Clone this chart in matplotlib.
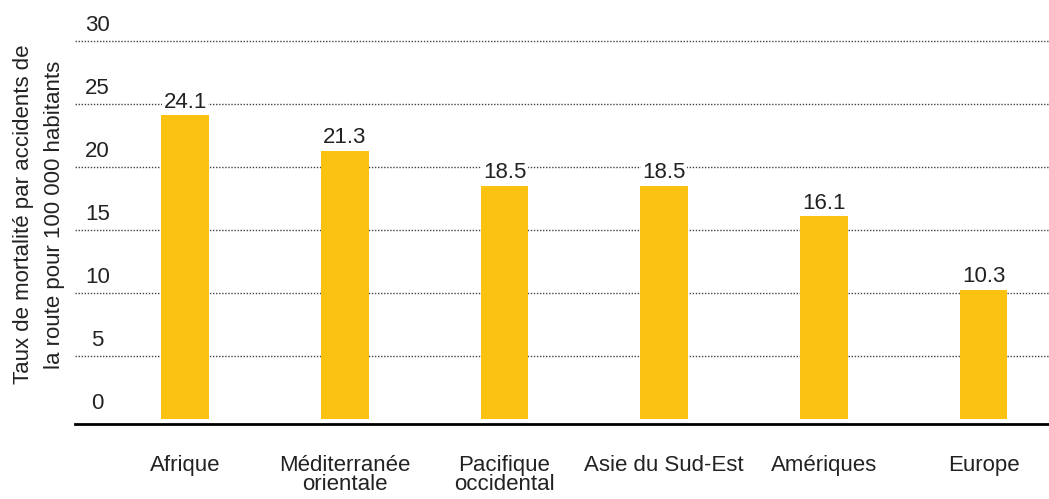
import numpy as np
import matplotlib
matplotlib.use('Agg')
import matplotlib.pyplot as plt
from matplotlib.transforms import ScaledTranslation

plt.rcParams['font.family'] = ['Liberation Sans Narrow', 'Liberation Sans', 'DejaVu Sans']

regions = ['Afrique', 'Méditerranée\norientale', 'Pacifique\noccidental',
           'Asie du Sud-Est', 'Amériques', 'Europe']
rates = [24.1, 21.3, 18.5, 18.5, 16.1, 10.3]
y_ticks = [0, 5, 10, 15, 20, 25, 30]
y_title = 'Taux de mortalité par accidents de\nla route pour 100 000 habitants'

bar_color = '#FCC212'
text_color = '#222222'

fig = plt.figure(figsize=(10.49, 4.99), dpi=100)
ax = fig.add_axes([75 / 1049, 75 / 499, 974 / 1049, 424 / 499])

x = np.arange(len(regions))
ax.bar(x, rates, width=0.3, color=bar_color, zorder=2)

# value labels over the bars
for xi, v in zip(x, rates):
    ax.annotate(f'{v:.1f}', (xi, v), xytext=(0, 2), textcoords='offset points',
                ha='center', va='bottom', fontsize=16, color=text_color, zorder=4,
                bbox=dict(facecolor='white', edgecolor='none', pad=1))

# dotted gridlines
for t in y_ticks[1:]:
    ax.axhline(t, color='#444444', linestyle=(0, (1, 1.2)), linewidth=1.0, zorder=1)

ax.set_xlim(-0.69, 5.41)
ax.set_ylim(-0.36, 33.25)

for s in ['top', 'right', 'left']:
    ax.spines[s].set_visible(False)
ax.spines['bottom'].set_linewidth(2)
ax.spines['bottom'].set_color('black')

ax.set_xticks(x)
ax.set_xticklabels(regions, fontsize=16, color=text_color, linespacing=0.9)
ax.tick_params(axis='x', length=0, pad=22)

ax.set_yticks(y_ticks)
ax.set_yticklabels([str(t) for t in y_ticks], fontsize=16, color=text_color)
ax.tick_params(axis='y', length=0, pad=0)
shift = ScaledTranslation(16 / 72, 13 / 72, fig.dpi_scale_trans)
for lab in ax.get_yticklabels():
    lab.set_horizontalalignment('center')
    lab.set_transform(lab.get_transform() + shift)

fig.text(39 / 1049, 0.57, y_title, rotation=90, ha='center', va='center',
         fontsize=16, color=text_color, linespacing=1.6)

fig.savefig('out.png', dpi=100)
